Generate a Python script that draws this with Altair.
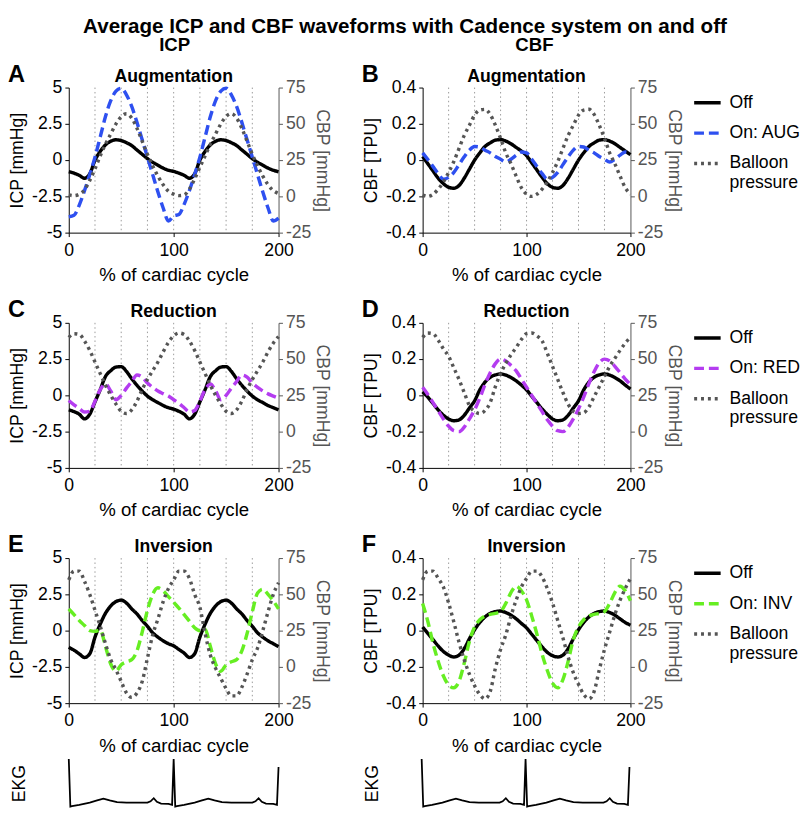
import altair as alt
import pandas as pd

FONT = "Liberation Sans"

# x positions (% of cardiac cycle), every 5 %
X = list(range(0, 201, 5))
GRID_X = [25, 50, 75, 100, 125, 150, 175]
X_TICKS = [0, 100, 200]
ICP_TICKS = [-5, -2.5, 0, 2.5, 5]
CBF_TICKS = [-0.4, -0.2, 0, 0.2, 0.4]
CBP_TICKS = [-25, 0, 25, 50, 75]

# ---------------- Row 1: Augmentation ----------------
ICP_AUG_OFF = [-0.8, -0.9, -1.05, -1.25, -0.95, 0.0, 0.6, 1.05, 1.3, 1.4, 1.35, 1.2, 1.0, 0.7, 0.4, 0.1, -0.15, -0.35, -0.55, -0.7, -0.78,
               -0.9, -1.05, -1.25, -0.95, 0.0, 0.6, 1.05, 1.3, 1.4, 1.35, 1.2, 1.0, 0.7, 0.4, 0.1, -0.15, -0.35, -0.55, -0.7, -0.8]
ICP_AUG_ON = [-3.9, -3.8, -3.1, -2.1, -1.0, 0.2, 1.6, 3.0, 4.1, 4.75, 4.95, 4.5, 3.7, 2.6, 1.4, 0.2, -1.0, -2.2, -3.3, -4.2, -3.85,
              -3.75, -3.05, -2.1, -1.0, 0.2, 1.6, 3.0, 4.1, 4.75, 4.95, 4.5, 3.7, 2.6, 1.4, 0.2, -1.0, -2.2, -3.3, -4.2, -4.0]
CBP_AUG_A = [1, 0.5, 1.5, 4.5, 11, 19, 28, 36, 43, 50, 55, 57, 54, 47, 38, 29, 21, 14, 8, 3.5, 1.5,
             0.5, 1, 5, 12, 20, 28, 36, 43, 50, 55, 57, 54, 47, 38, 29, 21, 14, 8, 4, 2]
CBF_AUG_OFF = [0.02, -0.02, -0.06, -0.1, -0.13, -0.15, -0.155, -0.14, -0.1, -0.05, 0.0, 0.04, 0.075, 0.095, 0.11, 0.113, 0.105, 0.09, 0.07, 0.05, 0.025,
               -0.015, -0.055, -0.095, -0.13, -0.15, -0.155, -0.14, -0.1, -0.05, 0.0, 0.04, 0.075, 0.095, 0.11, 0.113, 0.105, 0.09, 0.07, 0.05, 0.03]
CBF_AUG_ON = [0.04, 0.003, -0.036, -0.075, -0.105, -0.095, -0.068, -0.025, 0.018, 0.055, 0.075, 0.072, 0.055, 0.04, 0.02, 0.005, -0.01, 0.005, 0.027, 0.045, 0.04,
              0.005, -0.035, -0.075, -0.105, -0.095, -0.068, -0.025, 0.018, 0.055, 0.075, 0.072, 0.055, 0.04, 0.02, 0.005, -0.01, 0.005, 0.027, 0.045, 0.04]
CBP_AUG_B = [1, 0, 1.5, 5, 10, 16.5, 24, 33, 42, 49, 56, 59.5, 60, 56.5, 49, 40, 30, 22.5, 14, 6, 1.5,
             0, 1.5, 5, 10, 16.5, 24, 33, 42, 49, 56, 59.5, 60, 56.5, 49, 40, 30, 22.5, 14, 6, 1.5]

# ---------------- Row 2: Reduction ----------------
ICP_RED_OFF = [-1.0, -1.12, -1.3, -1.62, -1.3, -0.45, 0.4, 1.3, 1.7, 1.95, 1.98, 1.65, 1.15, 0.7, 0.3, -0.05, -0.3, -0.5, -0.7, -0.85, -0.95,
               -1.1, -1.3, -1.62, -1.3, -0.45, 0.4, 1.3, 1.7, 1.95, 1.98, 1.65, 1.15, 0.7, 0.3, -0.05, -0.3, -0.5, -0.7, -0.85, -1.0]
ICP_RED_ON = [-0.35, -0.65, -0.9, -1.15, -1.1, -0.4, 0.4, 0.78, 0.3, -0.3, 0.0, 0.5, 0.95, 1.4, 1.25, 0.85, 0.55, 0.3, 0.12, -0.05, -0.3,
              -0.55, -0.85, -1.15, -1.05, -0.4, 0.4, 0.78, 0.3, -0.3, 0.0, 0.5, 0.95, 1.4, 1.25, 0.85, 0.55, 0.3, 0.1, -0.05, -0.2]
CBP_RED_C = [65, 67.5, 67, 62.5, 56, 48, 40, 32, 25, 19, 14, 12.5, 15, 21, 29, 36, 42, 48, 55, 61.5, 66,
             68, 67, 62.5, 56, 48, 40, 32, 25, 19, 14, 12.5, 15, 21, 29, 36, 42, 48, 55, 61, 65.5]
CBF_RED_OFF = [0.02, -0.01, -0.045, -0.08, -0.11, -0.13, -0.14, -0.135, -0.11, -0.07, -0.03, 0.03, 0.073, 0.1, 0.113, 0.118, 0.112, 0.098, 0.08, 0.057, 0.03,
               -0.005, -0.04, -0.075, -0.105, -0.13, -0.14, -0.135, -0.11, -0.07, -0.03, 0.03, 0.073, 0.1, 0.113, 0.118, 0.112, 0.098, 0.08, 0.057, 0.035]
CBF_RED_ON = [0.045, 0.005, -0.04, -0.085, -0.13, -0.17, -0.195, -0.2, -0.175, -0.13, -0.08, -0.015, 0.06, 0.125, 0.175, 0.2, 0.19, 0.165, 0.135, 0.09, 0.045,
              0.0, -0.045, -0.09, -0.135, -0.17, -0.195, -0.2, -0.175, -0.13, -0.075, -0.01, 0.065, 0.13, 0.18, 0.2, 0.19, 0.16, 0.125, 0.09, 0.06]
CBP_RED_D = [65, 68, 67.5, 63, 57, 52, 44, 36, 27, 18, 14, 12.5, 14.5, 20, 31, 40, 47, 53, 58, 63.5, 67.5,
             68, 66, 62.5, 54, 45, 36, 27, 19, 14, 12.5, 13, 17, 24, 31, 38, 45, 50.5, 56, 61, 65]

# ---------------- Row 3: Inversion ----------------
ICP_INV_OFF = [-1.15, -1.35, -1.6, -1.85, -1.6, -0.45, 0.45, 1.2, 1.7, 2.0, 2.1, 1.9, 1.5, 1.15, 0.7, 0.3, -0.15, -0.45, -0.7, -0.9, -1.05,
               -1.3, -1.55, -1.85, -1.6, -0.45, 0.45, 1.2, 1.7, 2.0, 2.1, 1.9, 1.5, 1.15, 0.7, 0.3, -0.15, -0.45, -0.7, -0.9, -1.1]
ICP_INV_ON = [1.5, 1.1, 0.7, 0.35, 0.0, -0.05, 0.05, -1.1, -2.3, -2.8, -2.35, -2.15, -2.0, -1.4, -0.1, 1.4, 2.5, 2.95, 2.75, 2.35, 1.95,
              1.55, 1.1, 0.65, 0.2, 0.0, 0.1, -1.1, -2.3, -2.8, -2.35, -2.15, -2.0, -1.4, -0.2, 1.3, 2.6, 2.85, 2.5, 2.05, 1.5]
CBP_INV_E = [60, 66, 66, 59, 50, 39, 28, 16, 5, -2, -10, -18, -21, -18, -10, 6, 22, 33, 45, 54, 60,
             66, 66, 61, 50, 41, 23, 8, -1, -8, -15, -20, -20, -14, -5, 5, 13, 25, 38, 50, 58]
CBF_INV_OFF = [0.02, -0.015, -0.05, -0.085, -0.115, -0.135, -0.145, -0.135, -0.1, -0.045, 0.005, 0.045, 0.075, 0.095, 0.105, 0.108, 0.1, 0.085, 0.065, 0.04, 0.015,
               -0.02, -0.055, -0.09, -0.12, -0.138, -0.145, -0.135, -0.1, -0.045, 0.005, 0.045, 0.075, 0.095, 0.105, 0.108, 0.1, 0.085, 0.065, 0.045, 0.03]
CBF_INV_ON = [0.15, 0.05, -0.07, -0.17, -0.25, -0.3, -0.315, -0.28, -0.18, -0.06, 0.02, 0.06, 0.08, 0.09, 0.095, 0.105, 0.15, 0.21, 0.245, 0.22, 0.17,
              0.08, -0.02, -0.13, -0.22, -0.29, -0.315, -0.27, -0.17, -0.05, 0.02, 0.06, 0.08, 0.09, 0.095, 0.105, 0.15, 0.21, 0.245, 0.22, 0.165]
CBP_INV_F = [60, 66, 66, 61, 55, 44, 31, 17, 5, -5, -13, -19, -22, -17, -1, 12, 22, 35, 46, 55, 61,
             66, 66, 62, 54, 44, 32, 20, 7, -4, -12, -19, -22, -17, -2, 12, 24, 36, 46, 54, 61]

# ---------------- EKG trace ----------------
EKG_X = [0, 1.5, 3, 10, 20, 27, 33, 39, 46, 55, 65, 75, 78, 81, 84, 88, 95, 98.5, 100,
         101.5, 103, 110, 120, 127, 133, 139, 146, 155, 165, 175, 178, 181, 184, 188, 195, 198.5, 200]
EKG_V = [1.0, -0.07, -0.06, -0.03, 0.02, 0.07, 0.11, 0.07, 0.03, 0.02, 0.02, 0.02, 0.05, 0.12, 0.04, 0.0, -0.01, -0.03, 1.0,
         -0.07, -0.06, -0.03, 0.02, 0.07, 0.11, 0.07, 0.03, 0.02, 0.02, 0.02, 0.05, 0.12, 0.04, 0.0, -0.01, -0.03, 0.82]

COL_OFF = "#000000"
COL_BAL = "#555555"
ON_COLORS = {"On: AUG": "#2E50F0", "On: RED": "#B43CF0", "On: INV": "#66EE22"}
DASHES = [[1, 0], [10, 5], [3, 4]]
BALLOON = "Balloon pressure"

W_L, W_R, H = 214, 212, 148


def series_df(vals, name):
    return pd.DataFrame({"x": X, "v": vals, "series": name})


def text_layer(txt, x, y, size, align="center", baseline="alphabetic"):
    return alt.Chart(pd.DataFrame({"t": [txt]})).mark_text(
        align=align, baseline=baseline, fontSize=size, fontWeight="bold", font=FONT
    ).encode(text="t:N", x=alt.value(x), y=alt.value(y))


def make_panel(kind, title, letter, header, off, on, bal, on_name, width, header_x):
    dom = ["Off", on_name, BALLOON]
    legend = alt.Legend(
        title=None, orient="right", offset=9, labelFontSize=18, labelFont=FONT,
        symbolStrokeWidth=3.5, symbolSize=729, symbolType="stroke", rowPadding=6,
        labelLimit=200, padding=0, labelOffset=7,
        labelExpr="datum.label == 'Balloon pressure' ? ['Balloon', 'pressure'] : datum.label",
    )
    color = alt.Color("series:N", scale=alt.Scale(domain=dom, range=[COL_OFF, ON_COLORS[on_name], COL_BAL]), legend=legend)
    dash = alt.StrokeDash("series:N", scale=alt.Scale(domain=dom, range=DASHES), legend=legend)
    xenc = alt.X("x:Q", scale=alt.Scale(domain=[0, 200], nice=False, zero=False),
                 axis=alt.Axis(values=X_TICKS, title="% of cardiac cycle", labelFlush=False, labelOverlap=False))
    if kind == "ICP":
        ydom, yt, ytitle = [-5, 5], ICP_TICKS, "ICP [mmHg]"
    else:
        ydom, yt, ytitle = [-0.4, 0.4], CBF_TICKS, "CBF [TPU]"
    yl = alt.Y("v:Q", scale=alt.Scale(domain=ydom, nice=False, zero=False),
               axis=alt.Axis(values=yt, title=ytitle, labelExpr="toString(datum.value)", labelFlush=False, titlePadding=5))
    yr = alt.Y("v:Q", scale=alt.Scale(domain=[-25, 75], nice=False, zero=False),
               axis=alt.Axis(orient="right", values=CBP_TICKS, title="CBP [mmHg]", labelExpr="toString(datum.value)",
                             labelFlush=False, domainColor=COL_BAL, tickColor=COL_BAL, labelColor=COL_BAL,
                             titleColor=COL_BAL, titlePadding=2))
    rules = alt.Chart(pd.DataFrame({"x": GRID_X})).mark_rule(
        color="#9a9a9a", strokeDash=[1.5, 3], strokeWidth=1).encode(x=xenc)
    lk = dict(strokeWidth=3.5, interpolate="monotone", strokeCap="butt")
    off_c = alt.Chart(series_df(off, "Off")).mark_line(**lk).encode(x=xenc, y=yl, color=color, strokeDash=dash)
    on_c = alt.Chart(series_df(on, on_name)).mark_line(**lk).encode(x=xenc, y=yl, color=color, strokeDash=dash)
    bal_c = alt.Chart(series_df(bal, BALLOON)).mark_line(**lk).encode(x=xenc, y=yr, color=color, strokeDash=dash)
    layers = [
        alt.layer(rules, off_c, on_c), bal_c,
        text_layer(letter, -62, -6, 24, align="left"),
        text_layer(title, width / 2, -6, 18),
    ]
    if header:
        layers.append(text_layer(header, header_x, -43, 19, baseline="middle"))
    return alt.layer(*layers).resolve_scale(y="independent").properties(width=width, height=H)


def ekg_panel(width):
    return alt.Chart(pd.DataFrame({"x": EKG_X, "v": EKG_V})).mark_line(color="black", strokeWidth=1.8).encode(
        x=alt.X("x:Q", scale=alt.Scale(domain=[0, 200], nice=False, zero=False), axis=None),
        y=alt.Y("v:Q", scale=alt.Scale(domain=[-0.08, 1.0], nice=False, zero=False),
                axis=alt.Axis(title="EKG", labels=False, ticks=False, domain=False, titlePadding=41)),
    ).properties(width=width, height=49)


pA = make_panel("ICP", "Augmentation", "A", "ICP", ICP_AUG_OFF, ICP_AUG_ON, CBP_AUG_A, "On: AUG", W_L, 108)
pB = make_panel("CBF", "Augmentation", "B", "CBF", CBF_AUG_OFF, CBF_AUG_ON, CBP_AUG_B, "On: AUG", W_R, 114)
pC = make_panel("ICP", "Reduction", "C", None, ICP_RED_OFF, ICP_RED_ON, CBP_RED_C, "On: RED", W_L, 0)
pD = make_panel("CBF", "Reduction", "D", None, CBF_RED_OFF, CBF_RED_ON, CBP_RED_D, "On: RED", W_R, 0)
pE = make_panel("ICP", "Inversion", "E", None, ICP_INV_OFF, ICP_INV_ON, CBP_INV_E, "On: INV", W_L, 0)
pF = make_panel("CBF", "Inversion", "F", None, CBF_INV_OFF, CBF_INV_ON, CBP_INV_F, "On: INV", W_R, 0)

row1 = alt.hconcat(pA, pB, spacing=31).resolve_scale(color="shared", strokeDash="shared")
row2 = alt.hconcat(pC, pD, spacing=31).resolve_scale(color="shared", strokeDash="shared")
row3 = alt.hconcat(pE, pF, spacing=31).resolve_scale(color="shared", strokeDash="shared")
rows = alt.vconcat(row1, row2, row3, spacing=14).resolve_scale(color="independent", strokeDash="independent")
ekg_row = alt.hconcat(ekg_panel(W_L), ekg_panel(W_R), spacing=83)

chart = alt.vconcat(
    rows, ekg_row, spacing=0,
    title=alt.TitleParams("Average ICP and CBF waveforms with Cadence system on and off",
                          fontSize=21, fontWeight="bold", font=FONT, anchor="middle", offset=0),
).resolve_scale(color="independent", strokeDash="independent").properties(
    padding={"left": 0, "right": 0, "top": 0, "bottom": 0}
).configure_view(strokeWidth=0).configure_axis(
    labelFontSize=18, titleFontSize=18, titleFontWeight="normal", labelFont=FONT, titleFont=FONT,
    tickSize=4, labelPadding=3, domainColor="black", tickColor="black", labelColor="black",
    titleColor="black", grid=False,
).configure_axisX(titleFontSize=19, titlePadding=7, labelPadding=5)

chart.save("out.html", embed_options={"renderer": "svg", "actions": False})
